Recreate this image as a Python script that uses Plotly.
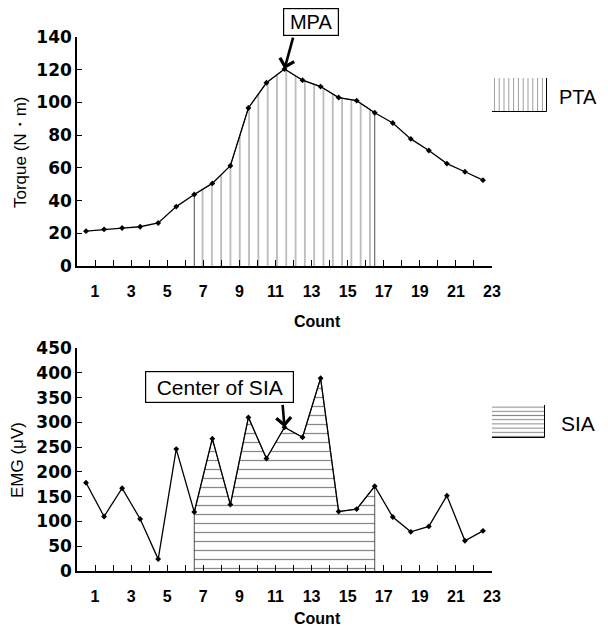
import plotly.graph_objects as go

# ---------------- data ----------------
counts = list(range(1, 24))
torque = [21.3, 22.4, 23.2, 24.0, 26.3, 36.3, 43.7, 50.5, 61.3, 96.6, 112.0, 120.4,
          113.6, 109.7, 103.0, 101.1, 93.7, 87.4, 77.7, 70.6, 62.6, 57.6, 52.5]
emg = [178, 110, 167, 105, 24, 246, 119, 267, 134, 310, 227, 290,
       270, 389, 120, 125, 171, 109, 79, 90, 152, 61, 81]
pta_start, pta_end = 7, 17      # PTA window (counts)
sia_start, sia_end = 7, 17      # SIA window (counts)
mpa_count = 12                  # maximal peak of torque
sia_center_count = 12           # center of SIA
tick_labels = [str(c) if c % 2 == 1 else "" for c in counts]

# page body has an 8px margin; figure coordinates are compensated for it
OFF = 8
W, H = 608, 627
def px(x): return (x - OFF) / W
def py(y): return 1 - (y - OFF) / H

XDOM = [px(77), px(492)]
TOP_DOM = [py(266), py(37)]
BOT_DOM = [py(571), py(348)]

fig = go.Figure()

# ---------------- top: torque ----------------
i0, i1 = counts.index(pta_start), counts.index(pta_end)
fig.add_trace(go.Scatter(
    x=[counts[i0]] + counts[i0:i1 + 1] + [counts[i1]],
    y=[0] + torque[i0:i1 + 1] + [0],
    mode="lines", fill="toself", fillcolor="white",
    line=dict(color="#222", width=0.8),
    fillpattern=dict(shape="|", size=9.3, solidity=0.13, fgcolor="#333", bgcolor="white"),
    xaxis="x", yaxis="y", showlegend=False, hoverinfo="skip"))
fig.add_trace(go.Scatter(
    x=counts, y=torque, mode="lines+markers",
    line=dict(color="black", width=1.3),
    marker=dict(color="black", size=4.5, symbol="diamond"),
    xaxis="x", yaxis="y", showlegend=False))

# ---------------- bottom: EMG ----------------
j0, j1 = counts.index(sia_start), counts.index(sia_end)
fig.add_trace(go.Scatter(
    x=[counts[j0]] + counts[j0:j1 + 1] + [counts[j1]],
    y=[0] + emg[j0:j1 + 1] + [0],
    mode="lines", fill="toself", fillcolor="white",
    line=dict(color="#222", width=0.8),
    fillpattern=dict(shape="-", size=9, solidity=0.14, fgcolor="#111", bgcolor="white"),
    xaxis="x2", yaxis="y2", showlegend=False, hoverinfo="skip"))
fig.add_trace(go.Scatter(
    x=counts, y=emg, mode="lines+markers",
    line=dict(color="black", width=1.3),
    marker=dict(color="black", size=4.5, symbol="diamond"),
    xaxis="x2", yaxis="y2", showlegend=False))

# ---------------- legend swatches ----------------
fig.add_trace(go.Bar(x=[0], y=[1], width=1, xaxis="x3", yaxis="y3",
                     marker=dict(color="white", line=dict(color="black", width=1),
                                 pattern=dict(shape="|", size=4.8, solidity=0.2,
                                              fgcolor="#333", bgcolor="white")),
                     showlegend=False, hoverinfo="skip"))
fig.add_trace(go.Bar(x=[0], y=[1], width=1, xaxis="x4", yaxis="y4",
                     marker=dict(color="white", line=dict(color="black", width=1),
                                 pattern=dict(shape="-", size=4.2, solidity=0.25,
                                              fgcolor="#111", bgcolor="white")),
                     showlegend=False, hoverinfo="skip"))

tickfont = dict(family="Liberation Sans, Arial, sans-serif", size=16, color="black", weight="bold")
ytickfont = dict(family="DejaVu Sans, sans-serif", size=17, color="black", weight="bold")

xcommon = dict(
    domain=XDOM, range=[0.5, 23.5], automargin=False,
    tickmode="array", tickvals=[c + 0.5 for c in counts], ticktext=tick_labels,
    ticks="inside", ticklen=6, tickwidth=1.2, tickcolor="black",
    showline=True, linecolor="black", linewidth=1.5,
    showgrid=False, zeroline=False, tickfont=tickfont, ticklabelstandoff=10,
)
ycommon = dict(
    automargin=False,
    ticks="inside", ticklen=5, tickwidth=1.2, tickcolor="black",
    showline=True, linecolor="black", linewidth=1.5,
    showgrid=False, zeroline=False, tickfont=ytickfont,
)

hidden = dict(visible=False, showgrid=False, zeroline=False, automargin=False)

fig.update_layout(
    width=W, height=H,
    margin=dict(l=0, r=0, t=0, b=0, pad=0),
    paper_bgcolor="white", plot_bgcolor="white",
    xaxis=dict(**xcommon, anchor="y"),
    yaxis=dict(**ycommon, domain=TOP_DOM, range=[0, 140], dtick=20, anchor="x"),
    xaxis2=dict(**xcommon, anchor="y2"),
    yaxis2=dict(**ycommon, domain=BOT_DOM, range=[0, 450], dtick=50, anchor="x2"),
    xaxis3=dict(**hidden, domain=[px(492), px(547)], range=[-0.5, 0.5], anchor="y3"),
    yaxis3=dict(**hidden, domain=[py(112), py(78)], range=[0, 1], anchor="x3"),
    xaxis4=dict(**hidden, domain=[px(492), px(545)], range=[-0.5, 0.5], anchor="y4"),
    yaxis4=dict(**hidden, domain=[py(438), py(405)], range=[0, 1], anchor="x4"),
    bargap=0,
)

font_reg = dict(family="Liberation Sans, Arial, sans-serif", color="black")
C = dict(xref="paper", yref="paper", xanchor="center", yanchor="middle", showarrow=False)
ann = []
# axis titles
ann.append(dict(text="Torque (N・m)", x=px(20), y=py(153), textangle=-90,
                font=dict(**font_reg, size=17), **C))
ann.append(dict(text="EMG (μV)", x=px(18), y=py(460), textangle=-90,
                font=dict(**font_reg, size=17), **C))
ann.append(dict(text="Count", x=px(317), y=py(321),
                font=dict(**font_reg, size=16, weight="bold"), **C))
ann.append(dict(text="Count", x=px(317), y=py(618),
                font=dict(**font_reg, size=16, weight="bold"), **C))
# legend texts
ann.append(dict(text="PTA", x=px(578), y=py(97), font=dict(**font_reg, size=20), **C))
ann.append(dict(text="SIA", x=px(578), y=py(423), font=dict(**font_reg, size=21), **C))
# MPA box + arrow
ann.append(dict(text="MPA", x=px(311), y=py(22), font=dict(**font_reg, size=20),
                bordercolor="black", borderwidth=1.2, bgcolor="white",
                width=50, height=22, borderpad=2, **C))
ann.append(dict(text="", x=mpa_count, y=torque[counts.index(mpa_count)], xref="x", yref="y",
                showarrow=True, ax=9, ay=-33, arrowhead=4, arrowsize=1.1,
                arrowwidth=2.6, arrowcolor="black"))
# Center of SIA box + arrow
ann.append(dict(text="Center of SIA", x=px(219.5), y=py(387), font=dict(**font_reg, size=21),
                bordercolor="black", borderwidth=1.2, bgcolor="white",
                width=143, height=26, borderpad=2, **C))
ann.append(dict(text="", x=sia_center_count, y=emg[counts.index(sia_center_count)],
                xref="x2", yref="y2",
                showarrow=True, ax=-2, ay=-24, arrowhead=4, arrowsize=1.1,
                arrowwidth=2.6, arrowcolor="black"))
fig.update_layout(annotations=ann)

fig.write_html("out.html")
